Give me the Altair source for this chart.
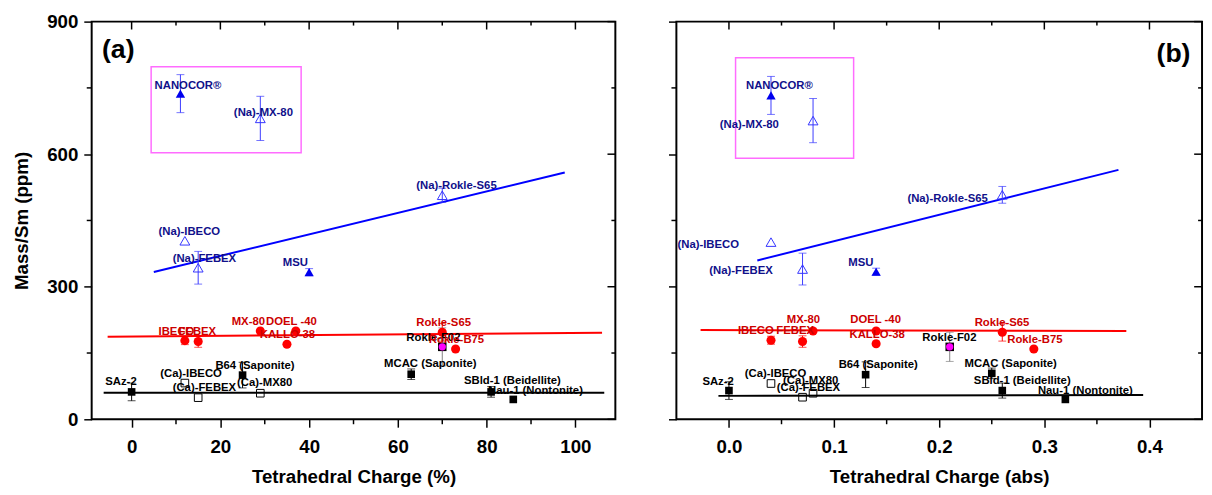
import altair as alt
import pandas as pd

# ---------------- data ----------------
names = ["NANOCOR®", "(Na)-MX-80", "(Na)-IBECO", "(Na)-FEBEX", "MSU", "(Na)-Rokle-S65",
         "IBECO", "FEBEX", "MX-80", "DOEL -40", "KALLO-38", "Rokle-S65", "Rokle-F02", "Rokle-B75",
         "SAz-2", "(Ca)-IBECO", "(Ca)-FEBEX", "(Ca)-MX80", "B64 (Saponite)", "MCAC (Saponite)",
         "SBld-1 (Beidellite)", "Nau-1 (Nontonite)"]
series = ["blue"] * 6 + ["red"] * 6 + ["magenta"] + ["red"] + ["black"] * 8
marker = ["tri_fill", "tri_open", "tri_open", "tri_open", "tri_fill", "tri_open",
          "dot", "dot", "dot", "dot", "dot", "dot", "dot_m", "dot",
          "sq_fill", "sq_open", "sq_open", "sq_open", "sq_fill", "sq_fill", "sq_fill", "sq_fill"]

# panel (a): tetrahedral charge in %
a_x = [11, 29, 12, 15, 40, 70, 12, 15, 29, 37, 35, 70, 70, 73, 0, 12, 15, 29, 25, 63, 81, 86]
a_y = [737, 681, 404, 343, 333, 507, 178, 176, 200, 200, 170, 197, 164, 159, 62, 82, 49, 59, 100, 102, 62, 45]
a_err = [43, 50, 0, 37, 8, 16, 9, 13, 0, 0, 0, 20, 43, 0, 20, 0, 0, 0, 29, 12, 12, 0]
a_lx = [12.7, 29.7, 13, 16.4, 36.9, 73.2, 10.1, 14.8, 26.3, 36.0, 35.1, 70.3, 68, 73.2,
        -2.4, 13.4, 16.4, 30, 27.8, 67.3, 85.8, 91]
a_ly = [755, 694, 423, 362, 354, 527, 198, 198, 221, 221, 191, 217, 185, 180,
        85, 102, 70, 81, 120, 124, 87, 65]
a_fit_x = {"blue": [5, 97.6], "red": [-5.4, 106], "black": [-6.3, 106.5]}
a_fit_y = {"blue": [333.5, 558.5], "red": [187, 196], "black": [60, 60]}
a_box_x = [4.4, 38.2]
a_box_y = [603, 798]

# panel (b): tetrahedral charge (abs)
b_x = [0.04, 0.08, 0.04, 0.07, 0.14, 0.26, 0.04, 0.07, 0.08, 0.14, 0.14, 0.26, 0.21, 0.29,
       0.0, 0.04, 0.07, 0.08, 0.13, 0.25, 0.26, 0.32]
b_y = [733, 676, 401, 340, 334, 508, 179, 176, 200, 200, 171, 197, 164, 159,
       65, 81, 50, 59, 101, 104, 65, 45]
b_err = [43, 50, 0, 36, 8, 19, 9, 13, 0, 0, 0, 20, 33, 0, 20, 0, 0, 0, 29, 12, 17, 0]
b_lx = [0.048, 0.0194, -0.0197, 0.0115, 0.1255, 0.208, 0.0256, 0.063, 0.0709, 0.1395, 0.141,
        0.2597, 0.2097, 0.291, -0.0103, 0.0443, 0.0756, 0.0777, 0.142, 0.268, 0.279, 0.339]
b_ly = [755, 666, 394, 336, 354, 498, 200, 200, 224, 224, 191, 218, 184, 180,
        85, 102, 70, 87, 122, 124, 87, 65]
b_fit_x = {"blue": [0.027, 0.3705], "red": [-0.027, 0.378], "black": [-0.01, 0.394]}
b_fit_y = {"blue": [359.5, 564.5], "red": [202, 200], "black": [53, 55]}
b_box_x = [0.0063, 0.1186]
b_box_y = [591, 818]

a_major = [0, 20, 40, 60, 80, 100]
a_minor = [10, 30, 50, 70, 90]
b_major = [0.0, 0.1, 0.2, 0.3, 0.4]
b_minor = [0.05, 0.15, 0.25, 0.35]
y_major = [0, 300, 600, 900]
y_minor = [150, 450, 750]

# ---------------- styling ----------------
FONT = "Liberation Sans"
H = 404
LINE_COL = {"blue": "#0000ff", "red": "#ff0000", "black": "#000000"}
ERR_COL = {"blue": "#3a3aff", "red": "#ff0000", "magenta": "#808080", "black": "#000000"}
LAB_COL = {"blue": "#10108a", "red": "#cc0000", "magenta": "#000000", "black": "#000000"}


def panel(xs, ys, errs, lxs, lys, fit_x, fit_y, box_x, box_y, xdom, major, minor,
          xtitle, fmt, show_y, tag, tag_xy, W):
    df = pd.DataFrame({"name": names, "series": series, "marker": marker,
                       "x": xs, "y": ys, "err": errs, "lx": lxs, "ly": lys})
    df["lo"] = df["y"] - df["err"]
    df["hi"] = df["y"] + df["err"]
    df["ecol"] = df["series"].map(ERR_COL)
    df["lcol"] = df["series"].map(LAB_COL)

    xs_ = alt.Scale(domain=xdom, nice=False, zero=False)
    ys_ = alt.Scale(domain=[0, 900], nice=False, zero=False)

    xaxis = alt.Axis(values=major, format=fmt, tickSize=8,
                     labelFont=FONT, labelFontSize=19, labelFontWeight="bold", labelColor="black",
                     labelPadding=11, labelFlush=False,
                     tickColor="black", tickWidth=1.5, domain=False, grid=False,
                     title=xtitle, titleFont=FONT, titleFontSize=19, titleFontWeight="bold",
                     titleColor="black", titlePadding=11)
    if show_y:
        yaxis = alt.Axis(values=y_major, tickSize=8,
                         labelFont=FONT, labelFontSize=19, labelFontWeight="bold", labelColor="black",
                         labelPadding=6, labelFlush=False,
                         tickColor="black", tickWidth=1.5, domain=False, grid=False,
                         title="Mass/Sm (ppm)",
                         titleFont=FONT, titleFontSize=19, titleFontWeight="bold",
                         titleColor="black", titlePadding=15)
    else:
        yaxis = alt.Axis(values=y_major, tickSize=8, labels=False, title=None,
                         tickColor="black", tickWidth=1.5, domain=False, grid=False)

    def X(f):
        return alt.X(f, type="quantitative", scale=xs_, axis=xaxis)

    def Y(f):
        return alt.Y(f, type="quantitative", scale=ys_, axis=yaxis)

    layers = []
    # highlight box
    box_df = pd.DataFrame({"x": [box_x[0]], "x2": [box_x[1]], "y": [box_y[0]], "y2": [box_y[1]]})
    layers.append(alt.Chart(box_df).mark_rect(fillOpacity=0, stroke="#ff6cff", strokeWidth=1.5)
                  .encode(x=X("x"), x2="x2", y=Y("y"), y2="y2"))
    # fit lines
    for k in ["blue", "red", "black"]:
        ldf = pd.DataFrame({"x": fit_x[k], "y": fit_y[k]})
        layers.append(alt.Chart(ldf).mark_line(color=LINE_COL[k], strokeWidth=2)
                      .encode(x=X("x"), y=Y("y")))
    # error bars
    edf = df[df["err"] > 0]
    layers.append(alt.Chart(edf).mark_rule(strokeWidth=1)
                  .encode(x=X("x"), y=Y("lo"), y2="hi", color=alt.Color("ecol:N", scale=None)))
    for f in ["lo", "hi"]:
        layers.append(alt.Chart(edf).mark_tick(orient="horizontal", size=8, thickness=1)
                      .encode(x=X("x"), y=Y(f), color=alt.Color("ecol:N", scale=None)))
    # markers
    specs = [
        ("tri_open", dict(shape="triangle-up", filled=False, size=100, color="#3333ff", strokeWidth=1, opacity=1)),
        ("tri_fill", dict(shape="triangle-up", filled=True, size=90, color="#0000ee", opacity=1)),
        ("dot", dict(shape="circle", filled=True, size=85, color="#ff0000", opacity=1)),
        ("dot_m", dict(shape="square", filled=True, size=75, color="#000000", opacity=1)),
        ("dot_m", dict(shape="circle", filled=True, size=55, color="#ff00ff", opacity=1)),
        ("sq_open", dict(shape="square", filled=False, size=60, color="#000000", strokeWidth=1, opacity=1)),
        ("sq_fill", dict(shape="square", filled=True, size=60, color="#000000", opacity=1)),
    ]
    for mk, kw in specs:
        layers.append(alt.Chart(df).transform_filter(alt.datum.marker == mk).mark_point(**kw)
                      .encode(x=X("x"), y=Y("y")))
    # labels
    layers.append(alt.Chart(df).mark_text(font=FONT, fontSize=11.5, fontWeight="bold",
                                          align="center", baseline="middle")
                  .encode(x=X("lx"), y=Y("ly"), text="name:N", color=alt.Color("lcol:N", scale=None)))
    # minor outward ticks (bottom, left) and inward mirror ticks (top, right)
    for vals, y0, y1 in [(minor, H, H + 5), (major, 0, 8), (minor, 0, 4)]:
        tdf = pd.DataFrame({"v": vals})
        layers.append(alt.Chart(tdf).mark_rule(color="black", strokeWidth=1.5)
                      .encode(x=X("v"), y=alt.value(y0), y2=alt.value(y1)))
    for vals, x0, x1 in [(y_minor, 0, -5), (y_major, W, W - 8), (y_minor, W, W - 4)]:
        tdf = pd.DataFrame({"v": vals})
        layers.append(alt.Chart(tdf).mark_rule(color="black", strokeWidth=1.5)
                      .encode(y=Y("v"), x=alt.value(x0), x2=alt.value(x1)))
    # panel tag
    tag_df = pd.DataFrame({"t": [tag]})
    layers.append(alt.Chart(tag_df).mark_text(font=FONT, fontSize=27, fontWeight="bold",
                                              align="center", baseline="middle", color="black")
                  .encode(x=alt.value(tag_xy[0]), y=alt.value(tag_xy[1]), text="t:N"))
    return alt.layer(*layers).properties(width=W, height=H)


pa = panel(a_x, a_y, a_err, a_lx, a_ly, a_fit_x, a_fit_y, a_box_x, a_box_y,
           [-9, 109], a_major, a_minor, "Tetrahedral Charge (%)", "d",
           True, "(a)", (27, 29), 532)
pb = panel(b_x, b_y, b_err, b_lx, b_ly, b_fit_x, b_fit_y, b_box_x, b_box_y,
           [-0.05, 0.45], b_major, b_minor, "Tetrahedral Charge (abs)", ".1f",
           False, "(b)", (505, 33), 534)

chart = (alt.hconcat(pa, pb, spacing=50)
         .properties(padding={"left": 4, "top": 0, "right": 0, "bottom": 0})
         .configure_view(stroke="black", strokeWidth=2))

chart.save("out.html", embed_options={"renderer": "svg", "actions": False})
